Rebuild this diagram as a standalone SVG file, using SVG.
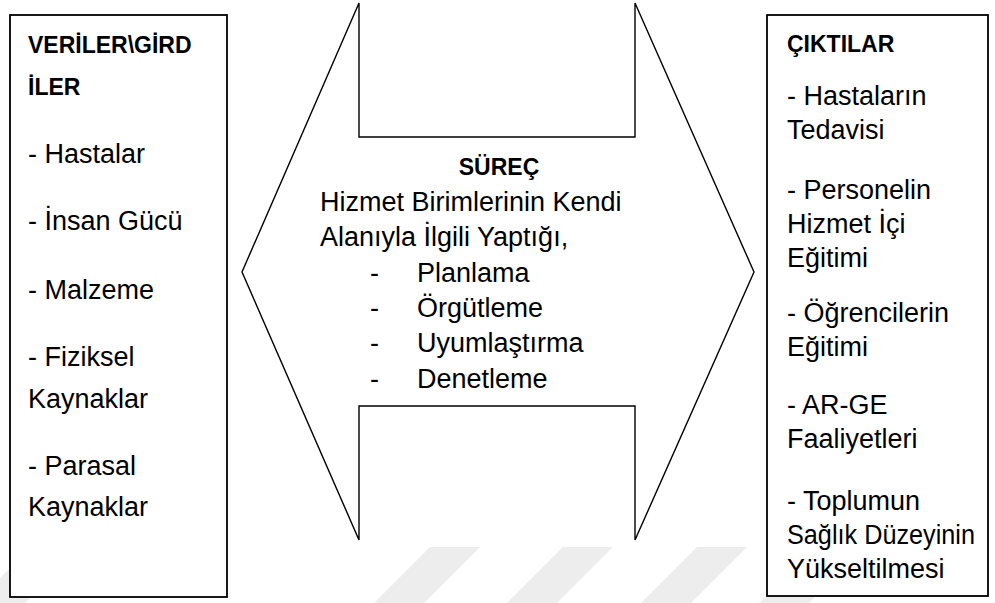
<svg xmlns="http://www.w3.org/2000/svg" width="995" height="603" viewBox="0 0 995 603">
  <style>
    .box { fill: #ffffff; stroke: #000000; stroke-width: 1.8; }
    .arrow { fill: #ffffff; stroke: #000000; stroke-width: 1.4; stroke-linejoin: miter; }
    .mark { fill: #ededed; }
    text { font-family: "Liberation Sans", Arial, sans-serif; font-size: 27px; fill: #000000; }
    .head { font-weight: bold; font-size: 23px; }
  </style>

  <!-- faint background bars -->
  <g id="background">
    <polygon class="mark" points="430,547 480,547 424,603 374,603"/>
    <polygon class="mark" points="563,547 613,547 557,603 507,603"/>
    <polygon class="mark" points="697,547 747,547 691,603 641,603"/>
    <polygon class="mark" points="815,547 865,547 809,603 759,603"/>
    <polygon class="mark" points="31,547 81,547 25,603 -25,603"/>
  </g>

  <!-- connectors: the two-headed process arrow between inputs and outputs -->
  <g id="connectors">
    <path class="arrow" d="M242,272 L359,3 L359,137 L635,137 L635,3 L754,272 L635,540 L635,406 L359,406 L359,540 Z"/>
  </g>

  <!-- inputs -->
  <g id="inputs">
    <rect class="box" x="10" y="15" width="217" height="582"/>
    <text class="head" x="28" y="53">VERİLER\GİRD</text>
    <text class="head" x="28" y="95">İLER</text>
    <text x="28" y="163">- Hastalar</text>
    <text x="28" y="230">- İnsan Gücü</text>
    <text x="28" y="299">- Malzeme</text>
    <text x="28" y="366">- Fiziksel</text>
    <text x="28" y="408">Kaynaklar</text>
    <text x="28" y="475">- Parasal</text>
    <text x="28" y="516">Kaynaklar</text>
  </g>

  <!-- process -->
  <g id="process">
    <text class="head" x="499" y="175" text-anchor="middle">SÜREÇ</text>
    <text x="320" y="211">Hizmet Birimlerinin Kendi</text>
    <text x="320" y="246">Alanıyla İlgili Yaptığı,</text>
    <text x="370" y="282">-</text><text x="417" y="282">Planlama</text>
    <text x="370" y="317">-</text><text x="417" y="317">Örgütleme</text>
    <text x="370" y="352">-</text><text x="417" y="352">Uyumlaştırma</text>
    <text x="370" y="388">-</text><text x="417" y="388">Denetleme</text>
  </g>

  <!-- outputs -->
  <g id="outputs">
    <rect class="box" x="767" y="15" width="221" height="581"/>
    <text class="head" x="787" y="52">ÇIKTILAR</text>
    <text x="787" y="105">- Hastaların</text>
    <text x="787" y="139">Tedavisi</text>
    <text x="787" y="199">- Personelin</text>
    <text x="787" y="233">Hizmet İçi</text>
    <text x="787" y="267">Eğitimi</text>
    <text x="787" y="322">- Öğrencilerin</text>
    <text x="787" y="356">Eğitimi</text>
    <text x="787" y="414">- AR-GE</text>
    <text x="787" y="448">Faaliyetleri</text>
    <text x="787" y="510">- Toplumun</text>
    <text x="787" y="544" textLength="188" lengthAdjust="spacingAndGlyphs">Sağlık Düzeyinin</text>
    <text x="787" y="578">Yükseltilmesi</text>
  </g>
</svg>
